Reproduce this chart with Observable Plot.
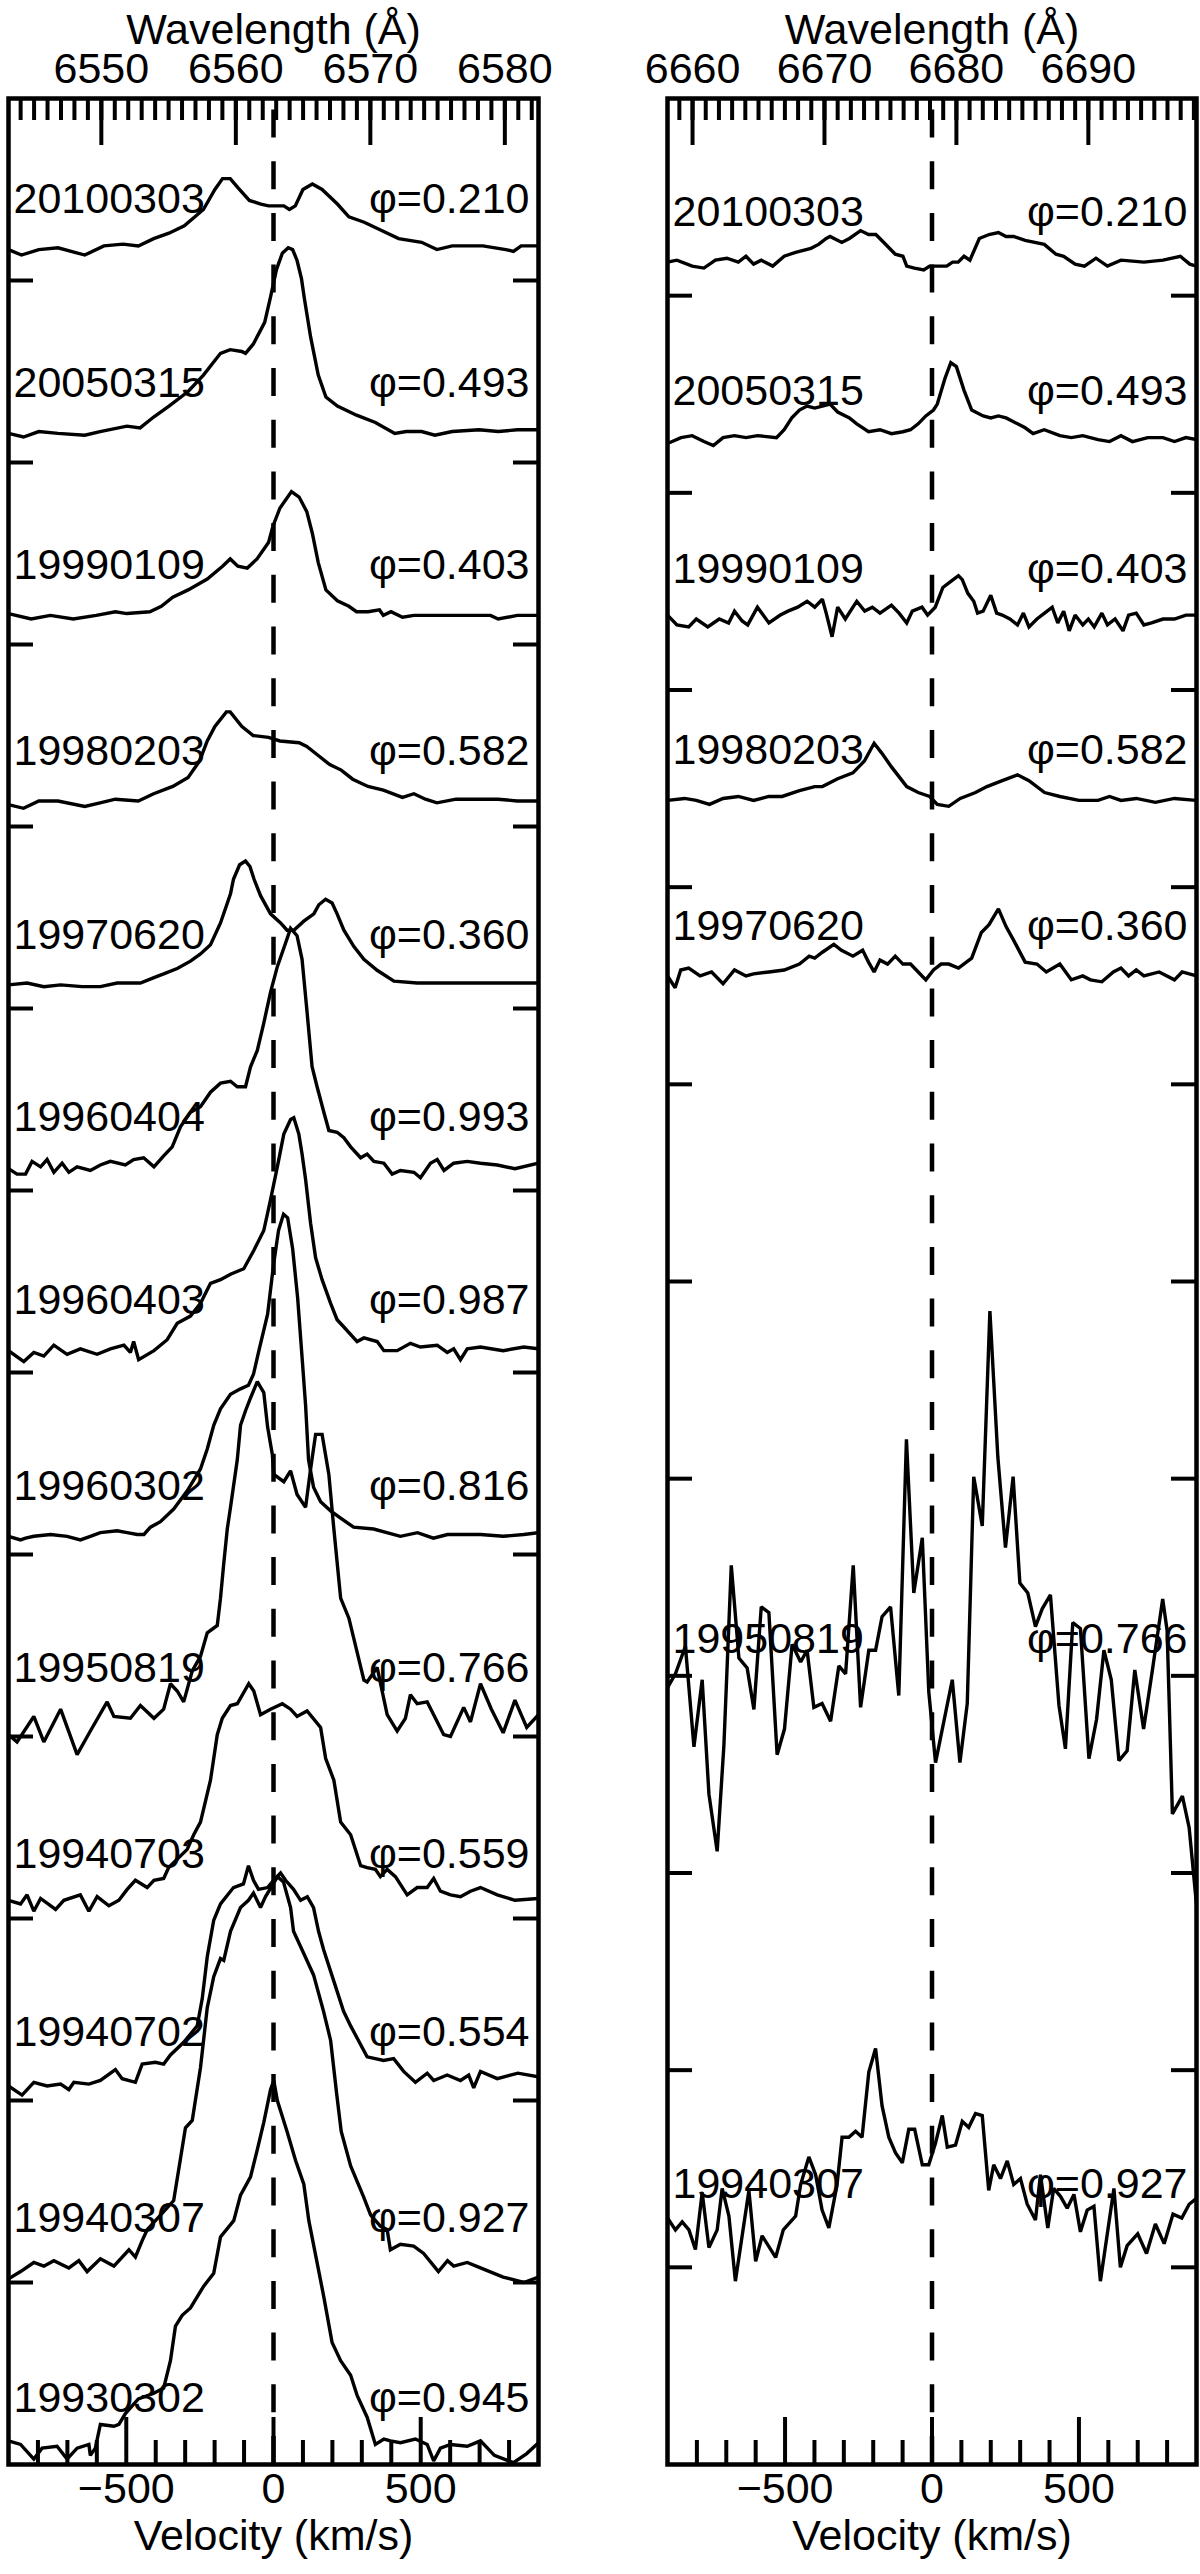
<!DOCTYPE html>
<html><head><meta charset="utf-8">
<script src="https://cdn.jsdelivr.net/npm/d3@7"></script>
<script src="https://cdn.jsdelivr.net/npm/@observablehq/plot@0.6"></script>
<style>
html,body{margin:0;padding:0;background:#fff;}
#chart{position:relative;width:1200px;height:2574px;background:#fff;}
#chart svg{position:absolute;top:0;}
</style></head><body><div id="chart"></div>
<script>
// ---------- Left panel: H-alpha (rest 6562.8 A) ----------
const haDates  = ["20100303","20050315","19990109","19980203","19970620","19960404","19960403","19960302","19950819","19940703","19940702","19940307","19930302"];
const haPhases = ["0.210","0.493","0.403","0.582","0.360","0.993","0.987","0.816","0.766","0.559","0.554","0.927","0.945"];
const haOffsets = [12.17,11.16,10.16,9.14,8.13,7.13,6.12,5.10,4.10,3.08,2.10,1.08,0.09];

const ha_20100303 = [[-900,0],[-856,-0.03],[-797,0],[-732,0.01],[-641,-0.03],[-576,0.02],[-511,0.03],[-459,0.02],[-407,0.06],[-355,0.09],[-303,0.13],[-238,0.22],[-199,0.33],[-173,0.39],[-147,0.39],[-121,0.34],[-82,0.27],[-43,0.25],[-17,0.24],[35,0.24],[54,0.22],[74,0.24],[100,0.33],[132,0.36],[165,0.33],[217,0.25],[256,0.18],[308,0.15],[360,0.11],[425,0.06],[503,0.04],[555,0],[607,0.02],[711,0.02],[789,0],[815,-0.01],[841,0.02],[900,0.02]];
const ha_20050315 = [[-900,0],[-849,-0.02],[-797,0.01],[-732,0],[-641,-0.01],[-589,0.01],[-498,0.04],[-453,0.03],[-407,0.09],[-355,0.15],[-290,0.23],[-238,0.32],[-180,0.44],[-147,0.46],[-108,0.45],[-95,0.44],[-69,0.49],[-30,0.61],[-10,0.75],[10,0.9],[30,0.99],[50,1.02],[65,1.01],[80,0.95],[95,0.85],[105,0.74],[126,0.53],[152,0.32],[178,0.2],[217,0.15],[282,0.1],[346,0.06],[412,0],[451,0.01],[503,0.01],[548,-0.01],[607,0.01],[698,0.02],[763,0.01],[828,0.02],[900,0.02]];
const ha_19990109 = [[-900,0.01],[-823,-0.02],[-758,0],[-680,-0.02],[-602,0],[-537,0.02],[-498,0.01],[-420,0.02],[-381,0.05],[-342,0.1],[-290,0.14],[-225,0.2],[-173,0.27],[-147,0.31],[-121,0.27],[-89,0.26],[-56,0.31],[-17,0.4],[-2,0.49],[22,0.59],[61,0.68],[87,0.65],[113,0.57],[132,0.45],[152,0.29],[178,0.14],[217,0.08],[256,0.05],[282,0.02],[321,0.02],[360,0.03],[373,0],[399,0.02],[438,-0.01],[477,0],[542,0],[607,0],[672,0],[737,0],[763,-0.02],[828,0],[900,0]];
const ha_19980203 = [[-900,-0.02],[-849,-0.04],[-797,0],[-732,0],[-641,-0.03],[-589,-0.01],[-537,0.01],[-459,0],[-407,0.04],[-342,0.08],[-290,0.13],[-251,0.22],[-225,0.33],[-199,0.41],[-160,0.49],[-147,0.49],[-108,0.41],[-69,0.36],[-17,0.35],[22,0.33],[87,0.32],[113,0.3],[152,0.25],[191,0.2],[230,0.17],[269,0.12],[321,0.08],[373,0.06],[438,0.02],[477,0.04],[516,0.01],[555,-0.01],[620,0.01],[698,0.01],[763,0.01],[828,0],[900,0]];
const ha_19970620 = [[-900,0],[-837,0.01],[-780,-0.01],[-723,0],[-650,-0.01],[-588,-0.01],[-531,0.01],[-452,0.01],[-406,0.04],[-373,0.06],[-327,0.09],[-282,0.13],[-248,0.17],[-214,0.22],[-180,0.34],[-146,0.5],[-136,0.58],[-115,0.66],[-95,0.68],[-80,0.65],[-66,0.58],[-44,0.49],[-10,0.39],[24,0.34],[46,0.3],[69,0.3],[103,0.35],[137,0.39],[154,0.44],[177,0.47],[199,0.45],[216,0.39],[239,0.3],[273,0.21],[307,0.14],[352,0.08],[409,0.02],[488,0.01],[567,0.01],[635,0.01],[703,0.01],[800,0.01],[900,0.01]];
const ha_19960404 = [[-900,-0.01],[-871,-0.04],[-842,-0.04],[-820,0.03],[-791,0],[-769,0.04],[-746,-0.03],[-718,0.02],[-695,-0.03],[-667,0],[-622,-0.02],[-588,0.01],[-554,0.03],[-503,0.01],[-475,0.04],[-441,0.05],[-406,0],[-373,0.06],[-344,0.11],[-316,0.22],[-282,0.3],[-248,0.33],[-214,0.41],[-180,0.46],[-146,0.47],[-123,0.44],[-95,0.44],[-78,0.55],[-55,0.64],[-33,0.79],[-10,0.96],[13,1.1],[41,1.23],[58,1.31],[80,1.27],[97,1.14],[114,0.85],[131,0.55],[148,0.44],[171,0.3],[188,0.2],[216,0.19],[239,0.16],[262,0.11],[296,0.05],[318,0.07],[341,0.03],[375,0.02],[403,-0.04],[431,-0.02],[477,-0.03],[499,-0.06],[533,0.02],[556,0.04],[579,-0.02],[612,0.02],[658,0.03],[703,0.02],[760,0.01],[820,-0.01],[900,0.02]];
const ha_19960403 = [[-900,0],[-848,-0.06],[-814,-0.01],[-780,-0.03],[-746,0.03],[-701,-0.02],[-656,0.01],[-599,-0.02],[-554,0.01],[-508,0.03],[-486,-0.01],[-475,0.05],[-458,-0.05],[-406,0],[-361,0.06],[-327,0.15],[-282,0.19],[-248,0.26],[-214,0.37],[-180,0.39],[-146,0.42],[-101,0.45],[-67,0.55],[-33,0.66],[-10,0.83],[13,1.01],[35,1.19],[58,1.27],[69,1.28],[86,1.19],[97,1.08],[109,0.94],[126,0.7],[143,0.51],[165,0.39],[194,0.26],[216,0.17],[239,0.13],[284,0.05],[307,0.07],[352,0.05],[375,0],[420,0],[465,0.04],[499,0.02],[556,0.03],[590,-0.01],[612,0.01],[635,-0.05],[658,0.01],[703,0.02],[780,0],[850,0.02],[900,0.01]];
const ha_19960302 = [[-900,0],[-859,-0.02],[-842,-0.01],[-814,0],[-757,0.01],[-701,0],[-656,-0.02],[-622,0],[-588,0.02],[-531,0.03],[-497,0.02],[-463,0.01],[-440,0.01],[-418,0.05],[-384,0.08],[-339,0.15],[-293,0.25],[-248,0.37],[-225,0.48],[-203,0.61],[-180,0.7],[-146,0.78],[-112,0.81],[-85,0.83],[-68,0.89],[-51,1.01],[-20,1.22],[0,1.49],[17,1.68],[34,1.77],[48,1.75],[65,1.58],[82,1.31],[99,0.94],[109,0.72],[119,0.42],[136,0.27],[160,0.19],[194,0.14],[228,0.1],[272,0.05],[340,0.04],[431,0],[489,0.02],[543,-0.01],[591,0.01],[703,0.01],[780,0],[850,0.01],[900,0.02]];
const ha_19950819 = [[-900,-0.09],[-871,-0.13],[-814,0.01],[-780,-0.13],[-723,0.05],[-667,-0.2],[-622,-0.07],[-565,0.09],[-542,0.01],[-486,0],[-452,0.07],[-406,0],[-373,0.05],[-350,0.19],[-327,0.15],[-305,0.09],[-276,0.26],[-248,0.34],[-225,0.47],[-191,0.51],[-180,0.66],[-169,0.85],[-157,1.04],[-146,1.16],[-123,1.42],[-112,1.61],[-95,1.69],[-78,1.76],[-55,1.85],[-33,1.79],[-20,1.6],[-4,1.45],[1,1.34],[35,1.3],[58,1.36],[80,1.23],[109,1.16],[126,1.37],[143,1.56],[165,1.56],[188,1.34],[205,1.04],[228,0.66],[256,0.55],[307,0.21],[318,0.2],[352,0.28],[386,0.02],[420,-0.07],[448,0],[465,0.13],[488,0.08],[522,0.09],[544,0.02],[578,-0.09],[601,-0.1],[646,0.06],[669,-0.02],[703,0.19],[740,0.05],[780,-0.08],[820,0.1],[860,-0.05],[900,0.02]];
const ha_19940703 = [[-900,0.02],[-859,0],[-837,0.05],[-814,-0.04],[-791,0.03],[-740,-0.03],[-712,0.02],[-656,0.05],[-627,-0.04],[-599,0.04],[-559,-0.01],[-525,0.02],[-497,0.08],[-469,0.13],[-429,0.09],[-406,0.13],[-373,0.14],[-356,0.2],[-293,0.3],[-271,0.38],[-248,0.45],[-214,0.68],[-191,0.93],[-174,1.02],[-146,1.09],[-123,1.1],[-84,1.21],[-67,1.17],[-44,1.04],[-10,1.07],[30,1.1],[58,1.07],[80,1.03],[114,1.06],[160,0.97],[177,0.8],[205,0.68],[228,0.45],[262,0.38],[296,0.21],[318,0.2],[346,0.19],[363,0.15],[386,0.19],[414,0.15],[454,0.05],[488,0.09],[522,0.09],[544,0.14],[567,0.07],[601,0.05],[635,0.04],[669,0.07],[703,0.09],[760,0.05],[820,0.02],[900,0.03]];
const ha_19940702 = [[-900,-0.02],[-854,-0.07],[-814,0],[-769,-0.02],[-723,-0.01],[-695,-0.04],[-678,0],[-627,-0.01],[-588,0.01],[-537,0.07],[-514,0.02],[-469,0],[-446,0.1],[-401,0.11],[-373,0.1],[-350,0.15],[-305,0.22],[-259,0.31],[-242,0.46],[-225,0.69],[-203,0.89],[-180,0.98],[-136,1.07],[-102,1.09],[-85,1.19],[-68,1.11],[-51,1.06],[-20,1.07],[0,1.11],[24,1.15],[41,1.11],[68,1.06],[92,1],[115,1.02],[136,0.96],[153,0.83],[170,0.73],[204,0.56],[238,0.39],[262,0.31],[318,0.14],[374,0.12],[408,0.13],[442,0.06],[482,0],[522,0.05],[544,0.01],[590,0.04],[635,0.01],[663,0.04],[680,-0.03],[703,0.06],[760,0.02],[830,0.05],[900,0.03]];
const ha_19940307 = [[-900,-0.06],[-859,-0.02],[-814,0.03],[-780,0.01],[-746,0.04],[-695,0],[-661,0.04],[-633,-0.02],[-588,0.05],[-542,0.01],[-491,0.1],[-469,0.06],[-446,0.15],[-429,0.21],[-373,0.31],[-339,0.37],[-316,0.6],[-299,0.77],[-276,0.81],[-248,1.1],[-225,1.43],[-203,1.6],[-180,1.7],[-169,1.69],[-146,1.85],[-112,1.98],[-85,2.02],[-68,2.06],[-44,1.98],[-27,2.04],[14,2.15],[34,2.12],[58,1.98],[68,1.85],[102,1.73],[136,1.61],[170,1.41],[194,1.25],[215,0.95],[230,0.75],[262,0.56],[306,0.39],[330,0.29],[363,0.23],[386,0.21],[397,0.1],[431,0.13],[476,0.12],[510,0.08],[560,-0.02],[591,0.04],[612,0.01],[658,0.03],[703,0],[780,-0.05],[850,-0.08],[900,-0.05]];
const ha_19930302 = [[-900,0.04],[-859,0.02],[-814,-0.06],[-786,0],[-735,0.01],[-701,-0.06],[-667,0],[-627,0.02],[-622,-0.04],[-605,0],[-588,0.13],[-542,0.12],[-525,0.13],[-503,0.19],[-459,0.27],[-408,0.3],[-373,0.33],[-350,0.48],[-333,0.67],[-310,0.73],[-282,0.77],[-237,0.89],[-203,0.96],[-180,1.16],[-135,1.25],[-112,1.39],[-78,1.49],[-55,1.64],[-33,1.79],[-10,1.97],[1,2.02],[13,1.91],[46,1.74],[75,1.58],[103,1.45],[120,1.25],[143,1.06],[171,0.83],[199,0.58],[228,0.48],[262,0.4],[284,0.29],[318,0.17],[346,0.02],[375,0.05],[397,0.04],[431,0.03],[482,0.05],[522,0.02],[544,-0.07],[567,0],[601,0.02],[658,0.01],[703,0.04],[750,-0.04],[815,-0.08],[860,-0.03],[900,0.03]];
const haSpectra = [ha_20100303, ha_20050315, ha_19990109, ha_19980203, ha_19970620, ha_19960404, ha_19960403, ha_19960302, ha_19950819, ha_19940703, ha_19940702, ha_19940307, ha_19930302];

// ---------- Right panel: He I (rest 6678.15 A) ----------
const heDates  = ["20100303","20050315","19990109","19980203","19970620","19950819","19940307"];
const hePhases = ["0.210","0.493","0.403","0.582","0.360","0.766","0.927"];
const heOffsets = [11.17,10.26,9.36,8.44,7.55,3.93,1.17];

const he_20100303 = [[-900,0],[-868,0.01],[-816,-0.02],[-776,-0.03],[-737,0.01],[-698,0.02],[-659,0],[-633,0.03],[-607,-0.01],[-581,0.01],[-542,-0.02],[-503,0.03],[-464,0.05],[-412,0.07],[-386,0.09],[-360,0.12],[-347,0.13],[-307,0.1],[-281,0.12],[-243,0.16],[-216,0.14],[-191,0.14],[-164,0.1],[-125,0.04],[-99,0.03],[-86,-0.02],[-60,-0.03],[-28,-0.04],[-8,-0.02],[18,-0.02],[50,-0.02],[70,0],[89,0],[109,0.03],[129,0.01],[161,0.12],[194,0.14],[226,0.15],[252,0.13],[278,0.13],[317,0.11],[382,0.09],[422,0.04],[448,0.03],[487,-0.01],[519,-0.02],[558,0.02],[597,-0.02],[643,0.01],[721,0],[786,0.01],[845,0.03],[877,-0.01],[900,-0.02]];
const he_20050315 = [[-900,-0.01],[-854,0.02],[-816,0.03],[-776,0],[-744,-0.02],[-711,0.02],[-672,0.03],[-633,0.02],[-594,0.03],[-529,0.02],[-503,0.06],[-477,0.12],[-451,0.16],[-425,0.18],[-399,0.17],[-373,0.18],[-347,0.19],[-321,0.15],[-281,0.12],[-256,0.09],[-216,0.05],[-177,0.06],[-138,0.04],[-99,0.05],[-73,0.06],[-47,0.09],[-21,0.13],[5,0.16],[18,0.19],[44,0.32],[64,0.4],[83,0.38],[109,0.26],[135,0.16],[174,0.13],[200,0.12],[226,0.13],[252,0.12],[291,0.09],[317,0.07],[344,0.04],[382,0.06],[435,0.03],[474,0.02],[513,0.03],[565,0.01],[604,0],[643,0.03],[682,0],[734,0.02],[786,0.02],[825,0],[864,0.02],[900,0.01]];
const he_19990109 = [[-900,0.02],[-868,-0.03],[-828,-0.04],[-802,0],[-763,-0.04],[-724,0],[-692,-0.02],[-672,0.04],[-646,-0.01],[-627,-0.03],[-594,0.06],[-555,-0.02],[-516,0.02],[-490,0.04],[-457,0.06],[-425,0.09],[-399,0.06],[-373,0.1],[-360,0.03],[-340,-0.09],[-321,0.06],[-295,0],[-269,0.06],[-256,0.09],[-229,0.04],[-203,0.06],[-177,0.03],[-138,0.07],[-112,0.03],[-86,-0.02],[-67,0.04],[-34,0.06],[-15,0.02],[11,0.06],[37,0.16],[63,0.19],[90,0.22],[103,0.2],[122,0.13],[142,0.09],[155,0.03],[174,0.04],[200,0.12],[220,0.03],[239,0.02],[265,0],[291,-0.03],[311,0.03],[330,-0.04],[357,0],[383,0.03],[409,0.06],[428,-0.02],[448,0.04],[467,-0.06],[487,0.02],[513,-0.03],[532,0],[552,-0.04],[578,0.03],[597,-0.03],[623,0],[650,-0.06],[669,0.02],[695,0.03],[721,-0.03],[747,-0.02],[786,0],[825,0],[864,0.02],[900,0.02]];
const he_19980203 = [[-900,0],[-842,0.01],[-802,0],[-757,-0.02],[-711,0.01],[-659,0.02],[-607,0],[-555,0.02],[-510,0.02],[-451,0.05],[-399,0.07],[-373,0.07],[-321,0.11],[-269,0.14],[-230,0.2],[-197,0.29],[-171,0.24],[-138,0.17],[-86,0.07],[-47,0.04],[-8,0.02],[18,-0.02],[57,-0.03],[96,0.01],[148,0.04],[187,0.07],[239,0.1],[291,0.13],[330,0.1],[383,0.04],[435,0.02],[500,0],[565,0],[604,0.02],[643,0],[695,0.01],[760,-0.01],[825,0.01],[900,0]];
const he_19970620 = [[-900,0],[-874,-0.06],[-855,0.03],[-828,0.04],[-789,0],[-750,0.02],[-711,-0.04],[-672,0.03],[-633,0],[-607,0.01],[-555,0.02],[-503,0.03],[-451,0.06],[-418,0.1],[-399,0.09],[-373,0.12],[-334,0.16],[-308,0.13],[-269,0.1],[-236,0.13],[-216,0.07],[-197,0.02],[-177,0.08],[-151,0.06],[-125,0.1],[-99,0.06],[-73,0.06],[-47,0.02],[-21,-0.02],[5,0.03],[31,0.06],[57,0.06],[90,0.04],[135,0.09],[168,0.22],[194,0.26],[226,0.34],[252,0.25],[278,0.18],[317,0.07],[357,0.06],[389,0.02],[435,0.06],[474,-0.02],[513,0],[539,-0.02],[578,-0.03],[617,0.02],[643,0.04],[669,0],[695,0.03],[721,0],[773,0.02],[825,-0.02],[851,0.02],[900,0]];
const he_19950819 = [[-900,0.01],[-873,0.08],[-839,0.22],[-810,-0.29],[-782,0.05],[-759,-0.53],[-731,-0.82],[-708,-0.28],[-683,0.63],[-657,0.16],[-629,0.11],[-606,-0.1],[-581,0.42],[-555,0.39],[-527,-0.33],[-502,-0.2],[-476,0.23],[-447,0.14],[-425,0.2],[-402,-0.09],[-374,-0.07],[-345,-0.16],[-317,0.12],[-294,0.08],[-268,0.63],[-243,-0.09],[-215,0.2],[-192,0.2],[-170,0.37],[-141,0.42],[-113,-0.03],[-87,1.27],[-62,0.49],[-33,0.77],[-11,-0.01],[12,-0.37],[69,0.05],[95,-0.37],[120,-0.07],[142,1.08],[171,0.83],[197,1.92],[224,1.18],[250,0.72],[276,1.08],[299,0.54],[326,0.49],[352,0.32],[375,0.41],[403,0.48],[432,-0.08],[454,-0.3],[479,0.34],[505,0.31],[534,-0.35],[560,-0.15],[585,0.2],[610,0.05],[636,-0.36],[664,-0.31],[690,0.1],[720,-0.2],[750,0.1],[785,0.46],[800,0.3],[818,-0.63],[852,-0.54],[875,-0.7],[900,-1.09]];
const he_19940307 = [[-900,0.08],[-873,0.02],[-850,0.06],[-827,0.02],[-805,-0.08],[-782,0.21],[-759,-0.07],[-731,0.02],[-714,0.23],[-691,0.09],[-669,-0.24],[-623,0.22],[-600,-0.14],[-578,-0.01],[-532,-0.12],[-506,0.02],[-464,0.09],[-447,0.25],[-419,0.39],[-396,0.3],[-374,0.12],[-351,0.03],[-323,0.25],[-306,0.49],[-283,0.49],[-260,0.52],[-238,0.49],[-215,0.82],[-192,0.94],[-170,0.65],[-147,0.49],[-124,0.41],[-101,0.36],[-79,0.53],[-59,0.53],[-33,0.35],[-11,0.35],[12,0.46],[35,0.6],[52,0.44],[80,0.45],[103,0.57],[125,0.54],[148,0.61],[171,0.6],[193,0.22],[210,0.35],[233,0.28],[256,0.37],[278,0.25],[301,0.28],[324,0.15],[352,0.07],[369,0.3],[394,0.03],[414,0.23],[437,0.19],[460,0.13],[483,0.2],[505,0.01],[528,0.12],[551,0.14],[573,-0.24],[619,0.23],[641,-0.17],[664,-0.06],[700,0],[730,-0.1],[760,0.05],[790,-0.05],[820,0.1],[850,0.08],[875,0.15],[900,0.18]];
const heSpectra = [he_20100303, he_20050315, he_19990109, he_19980203, he_19970620, he_19950819, he_19940307];

// ---------- Axis ticks and labels ----------
const velMinorTicks = [-800,-700,-600,-400,-300,-200,-100,100,200,300,400,600,700,800];
const velMajorTicks = [-500,0,500];
const velTickLabels = [-500,0,500];
const haWaveLabels = [6550,6560,6570,6580];
const heWaveLabels = [6660,6670,6680,6690];
const haRest = 6562.8, heRest = 6678.15;
const haYTicks = [1,2,3,4,5,6,7,8,9,10,11,12];
const heYTicks = [1,2,3,4,5,6,7,8,9,10,11];

const C_KMS = 299792.458;
const FONT = '"Liberation Sans", Arial, Helvetica, sans-serif';
const FS = 43;

function makePanel(cfg) {
  const W = 600, H = 2574, mT = 98, mB = 110;
  const frameW = W - cfg.marginLeft - cfg.marginRight, frameH = H - mT - mB;
  const toV = lam => C_KMS * (lam / cfg.rest - 1);
  const waveMinor = d3.range(Math.ceil(cfg.rest * (1 - 900 / C_KMS)), Math.floor(cfg.rest * (1 + 900 / C_KMS)) + 1);
  const rows = cfg.dates.map((d, i) => ({date: d, phase: cfg.phases[i], off: cfg.offsets[i]}));
  const pts = cfg.spectra.flatMap((s, i) => s.map(([v, h]) => ({id: i, v, y: cfg.offsets[i] + h})));
  const tick = {stroke: "black", strokeWidth: 4};
  return Plot.plot({
    width: W, height: H,
    marginLeft: cfg.marginLeft, marginRight: cfg.marginRight, marginTop: mT, marginBottom: mB,
    x: {domain: [-900, 900], axis: null},
    y: {domain: [0, cfg.yMax], axis: null},
    style: {fontFamily: FONT, background: "white", color: "black", overflow: "visible"},
    marks: [
      Plot.ruleX([{x: 0, a: 0, b: cfg.yMax}], {x: "x", y1: "a", y2: "b", stroke: "black", strokeWidth: 4.5, strokeDasharray: "28,23.7"}),
      Plot.line(pts, {x: "v", y: "y", z: "id", stroke: "black", strokeWidth: 3.4, clip: true, strokeLinejoin: "miter", strokeMiterlimit: 2}),
      Plot.tickX(velMinorTicks, {x: d => d, insetTop: frameH - 24, ...tick}),
      Plot.tickX(velMajorTicks, {x: d => d, insetTop: frameH - 47, ...tick}),
      Plot.tickX(waveMinor, {x: toV, insetBottom: frameH - 22, ...tick}),
      Plot.tickX(cfg.waveLabels, {x: toV, insetBottom: frameH - 47, ...tick}),
      Plot.tickY(cfg.yTicks, {y: d => d, insetRight: frameW - 25, ...tick}),
      Plot.tickY(cfg.yTicks, {y: d => d, insetLeft: frameW - 25, ...tick}),
      Plot.frame({stroke: "black", strokeWidth: 4.5}),
      Plot.text(rows, {y: "off", text: "date", frameAnchor: "left", dx: 5, dy: -50, textAnchor: "start", fontSize: FS, fill: "black"}),
      Plot.text(rows, {y: "off", text: d => "φ=" + d.phase, frameAnchor: "right", dx: -9, dy: -50, textAnchor: "end", fontSize: FS, fill: "black"}),
      Plot.text(cfg.waveLabels, {x: toV, text: d => String(d), frameAnchor: "top", dy: -46, fontSize: FS, fill: "black"}),
      Plot.text(["Wavelength (Å)"], {text: d => d, frameAnchor: "top", dy: -85, fontSize: FS, fill: "black"}),
      Plot.text(velTickLabels, {x: d => d, text: d => d < 0 ? "\u2212" + Math.abs(d) : String(d), frameAnchor: "bottom", dy: 38, fontSize: FS, fill: "black"}),
      Plot.text(["Velocity (km/s)"], {text: d => d, frameAnchor: "bottom", dy: 85, fontSize: FS, fill: "black"})
    ]
  });
}

const left = makePanel({spectra: haSpectra, dates: haDates, phases: haPhases, offsets: haOffsets, yMax: 13, yTicks: haYTicks, rest: haRest, waveLabels: haWaveLabels, marginLeft: 8, marginRight: 62});
const right = makePanel({spectra: heSpectra, dates: heDates, phases: hePhases, offsets: heOffsets, yMax: 12, yTicks: heYTicks, rest: heRest, waveLabels: heWaveLabels, marginLeft: 67, marginRight: 4});
left.style.left = "0px";
right.style.left = "600px";
const chart = document.getElementById("chart");
chart.appendChild(left);
chart.appendChild(right);
</script></body></html>
